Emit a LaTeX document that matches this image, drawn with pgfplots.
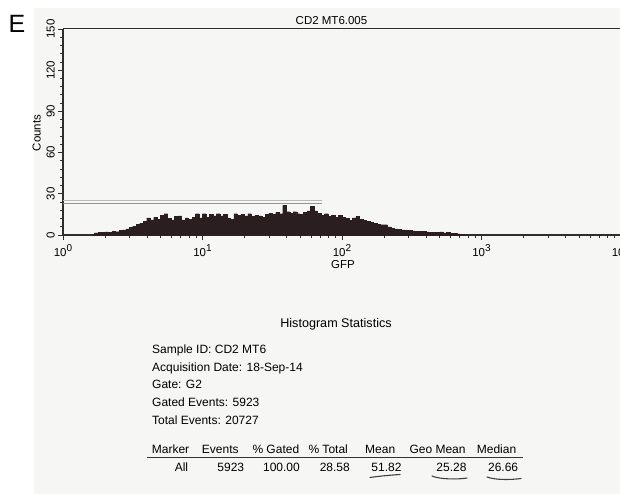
\documentclass[border=0pt]{standalone}
\usepackage{fontspec}
\setmainfont{Liberation Sans}
\usepackage{pgfplots}
\pgfplotsset{compat=1.18}
\definecolor{hist}{RGB}{43,30,30}
\definecolor{axline}{RGB}{50,45,45}
\definecolor{paper}{RGB}{246,246,244}
\newcommand{\tl}[1]{10\raisebox{5pt}{\fontsize{10}{10}\selectfont #1}}
\begin{document}
\begin{tikzpicture}
\useasboundingbox (0,0) rectangle (620pt,-494pt);
\fill[white] (0,0) rectangle (620pt,-494pt);
\fill[paper] (34pt,-8pt) rectangle (620pt,-494pt);
\begin{axis}[
  name=ax,
  at={(63pt,-235pt)}, anchor=south west,
  scale only axis, width=558pt, height=206pt,
  xmode=log, xmin=1, xmax=10000, ymin=0, ymax=150,
  axis x line*=bottom, axis y line*=left,
  axis line style={axline, line width=1.2pt},
  tick align=outside,
  xtick={1,10,100,1000,10000},
  xticklabels={\tl{0},\tl{1},\tl{2},\tl{3},\tl{4}},
  minor xtick={2,3,4,5,6,7,8,9,20,30,40,50,60,70,80,90,200,300,400,500,600,700,800,900,2000,3000,4000,5000,6000,7000,8000,9000},
  ytick={0,30,60,90,120,150},
  minor ytick={6,12,18,24,36,42,48,54,66,72,78,84,96,102,108,114,126,132,138,144},
  major tick length=5pt, minor tick length=3pt,
  tick style={axline, line width=0.9pt},
  /pgf/number format/assume math mode=true,
  yticklabel shift=3pt,
  xticklabel shift=4pt,
  yticklabel style={rotate=90, anchor=south, inner sep=0pt, font=\fontsize{11.5}{12}\selectfont},
  xticklabel style={anchor=north, inner sep=0pt, font=\fontsize{11.5}{12}\selectfont},
  no markers,
  clip=false,
]
\addplot[const plot mark left, fill=hist, draw=hist, line width=0.3pt] coordinates {
(1.5849,0) (1.6788,1.5) (1.7783,2) (1.8836,1.8) (1.9953,2.3) (2.1135,2.1) (2.2387,2.6) (2.3714,2.4)
(2.5119,3.2) (2.6607,3.8) (2.8184,4.5) (2.9854,5.5) (3.1623,6.5) (3.3497,7.8) (3.5481,8.5) (3.7584,10)
(3.9811,12.5) (4.2170,11) (4.4668,12.8) (4.7315,11.5) (5.0119,14.5) (5.3088,15.5) (5.6234,12) (5.9566,11)
(6.3096,13.5) (6.6834,14) (7.0795,11) (7.4989,12.5) (7.9433,11.5) (8.4140,13) (8.9125,15.5) (9.4406,12.5)
(10,15.5) (10.593,13) (11.220,15) (11.885,14) (12.589,15.5) (13.335,14) (14.125,15) (14.962,12.5)
(15.849,11.5) (16.788,15.5) (17.783,14.5) (18.836,15) (19.953,14) (21.135,15.5) (22.387,13.5) (23.714,14.5)
(25.119,14) (26.607,13) (28.184,15) (29.854,16) (31.623,15) (33.497,16.5) (35.481,15.5) (37.584,21.5)
(39.811,17) (42.170,16) (44.668,17) (47.315,15.5) (50.119,15) (53.088,16.5) (56.234,17.5) (59.566,21)
(63.096,17.5) (66.834,16) (70.795,14.5) (74.989,15.5) (79.433,13.5) (84.140,14.5) (89.125,13) (94.406,14.5)
(100,13) (105.93,12) (112.20,10.5) (118.85,12.5) (125.89,13.5) (133.35,11.5) (141.25,10.5) (149.62,10)
(158.49,9) (167.88,8.5) (177.83,8) (188.36,7.5) (199.53,7.5) (211.35,6) (223.87,5) (237.14,4.5)
(251.19,4) (266.07,3.8) (281.84,3.5) (298.54,3.2) (316.23,3) (334.97,2.8) (354.81,2.5) (375.84,2.8)
(398.11,2.3) (421.70,2) (446.68,2) (473.15,1.8) (501.19,2.2) (530.88,1.5) (562.34,1.8) (595.66,1.2)
(630.96,1.3) (668.34,0.9) (707.95,0.6) (749.89,0)
} \closedcycle;
\addplot[gray!55, line width=0.7pt] coordinates {(1,25.5) (72,25.5)};
\addplot[gray!85, line width=0.8pt] coordinates {(1,23.3) (72,23.3)};
\end{axis}
\draw[axline, line width=1pt] (ax.north west) -- (ax.north east);
% labels
\node[anchor=base west, inner sep=0pt, font=\fontsize{25}{25}\selectfont] at (8.5pt,-33pt) {E};
\node[anchor=base, inner sep=0pt, font=\fontsize{11.5}{12}\selectfont] at (331.5pt,-25pt) {CD2 MT6.005};
\node[anchor=base, rotate=90, inner sep=0pt, font=\fontsize{11.5}{12}\selectfont] at (40.5pt,-133pt) {Counts};
\node[anchor=base, inner sep=0pt, font=\fontsize{11.5}{12}\selectfont] at (343pt,-268pt) {GFP};
% statistics
\begin{scope}[every node/.style={inner sep=0pt, font=\fontsize{12}{13}\selectfont}]
\node[anchor=base, font=\fontsize{12.6}{13}\selectfont] at (336pt,-327pt) {Histogram Statistics};
\node[anchor=base west] at (152pt,-353pt) {Sample ID: CD2 MT6};
\node[anchor=base west] at (152pt,-371pt) {Acquisition Date: 18-Sep-14};
\node[anchor=base west] at (152pt,-388.5pt) {Gate: G2};
\node[anchor=base west] at (152pt,-406pt) {Gated Events: 5923};
\node[anchor=base west] at (152pt,-424pt) {Total Events: 20727};
\node[anchor=base west] at (151.7pt,-453.3pt) {Marker};
\node[anchor=base west] at (201.7pt,-453.3pt) {Events};
\node[anchor=base west] at (252.3pt,-453.3pt) {\% Gated};
\node[anchor=base west] at (308.3pt,-453.3pt) {\% Total};
\node[anchor=base west] at (365pt,-453.3pt) {Mean};
\node[anchor=base west] at (409.3pt,-453.3pt) {Geo Mean};
\node[anchor=base west] at (476.7pt,-453.3pt) {Median};
\node[anchor=base east] at (188.3pt,-471pt) {All};
\node[anchor=base east] at (244.3pt,-471pt) {5923};
\node[anchor=base east] at (300pt,-471pt) {100.00};
\node[anchor=base east] at (350pt,-471pt) {28.58};
\node[anchor=base east] at (401.7pt,-471pt) {51.82};
\node[anchor=base east] at (466.7pt,-471pt) {25.28};
\node[anchor=base east] at (518.3pt,-471pt) {26.66};
\end{scope}
\draw[black!80, line width=1.3pt] (147pt,-457.7pt) -- (523pt,-457.7pt);
% hand-drawn underlines
\draw[black!75, line width=1.1pt, line cap=round] (370pt,-477.5pt) .. controls (380pt,-476pt) and (392pt,-475pt) .. (400pt,-474.5pt);
\draw[black!75, line width=1.1pt, line cap=round] (432pt,-476pt) .. controls (440pt,-479.5pt) and (458pt,-479.5pt) .. (467pt,-478pt);
\draw[black!75, line width=1.1pt, line cap=round] (487pt,-477pt) .. controls (495pt,-480pt) and (510pt,-480pt) .. (521pt,-478.5pt);
\end{tikzpicture}
\end{document}
